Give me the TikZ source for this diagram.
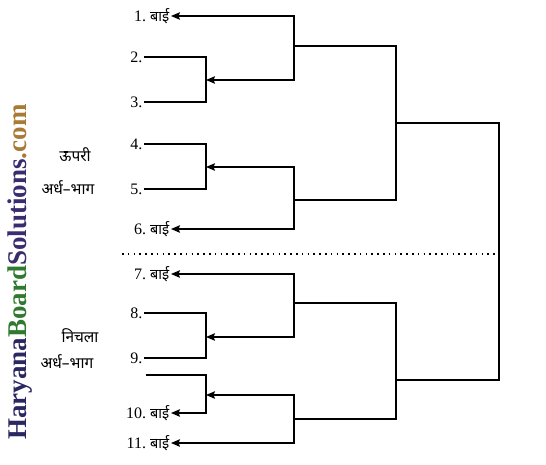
\documentclass[tikz,border=0pt]{standalone}
\usepackage{fontspec}
\setmainfont{Liberation Serif}
\newfontfamily\hindi[Script=Devanagari]{Noto Sans}
\usetikzlibrary{arrows.meta}
\definecolor{wmnavy}{HTML}{2B2761}
\definecolor{wmgreen}{HTML}{2F7A2F}
\definecolor{wmpurple}{HTML}{3A2C6E}
\definecolor{wmgold}{HTML}{A87A35}
\tikzset{
  entry/.style={anchor=east,inner sep=1.5pt,font=\fontsize{16}{18}\selectfont},
  link/.style={line width=1.1pt},
  arr/.style={link,-{Stealth[length=9pt,width=7.5pt,inset=1.5pt]}},
  half/.style={font=\hindi\fontsize{15.5}{18}\selectfont},
  divider/.style={line width=1.3pt,dash pattern=on 1.6pt off 4.2pt},
}
\begin{document}
\begin{tikzpicture}[x=1pt,y=-1pt]
    \useasboundingbox (0,0) rectangle (546,464);
    % Watermark
    \node[rotate=90,font=\bfseries\fontsize{27}{27}\selectfont] (wm) at (20,272)
      {\textcolor{wmnavy}{Haryana}\textcolor{wmgreen}{Board}\textcolor{wmpurple}{Solutions}\textcolor{wmgold}{.com}};
    % Halves
    \node[half] (up1) at (75,155) {ऊपरी};
    \node[half] (up2) at (68,188) {अर्ध–भाग};
    \node[half] (lo1) at (80,336) {निचला};
    \node[half] (lo2) at (67,362) {अर्ध–भाग};
    % Entrants
    \foreach \n/\y in {2/57,3/102,4/144,5/189,8/313,9/358}{
      \node[entry] (e\n) at (144,\y) {\n.};
    }
    \foreach \n/\y in {1/16,6/229,7/274,10/413,11/443}{
      \node[entry] (e\n) at (171,\y) {\n.\ {\hindi\fontsize{14.5}{16}\selectfont बाई}};
    }
    \coordinate (t10) at (146,375);
    % Round 1
    \coordinate (k23) at (206,80);
    \coordinate (k45) at (206,167);
    \coordinate (k89) at (206,337);
    \coordinate (k10) at (206,395);
    \draw[link] (e2.east) -| (k23) |- (e3.east);
    \draw[link] (e4.east) -| (k45) |- (e5.east);
    \draw[link] (e8.east) -| (k89) |- (e9.east);
    \draw[arr] (t10) -| (k10) |- (e10.east);
    % Round 2
    \coordinate (m1) at (294,46);
    \coordinate (m2) at (294,200);
    \coordinate (m3) at (294,303);
    \coordinate (m4) at (294,419);
    \draw[arr] (m1) |- (e1.east);
    \draw[arr] (m1) |- (k23);
    \draw[arr] (m2) |- (k45);
    \draw[arr] (m2) |- (e6.east);
    \draw[arr] (m3) |- (e7.east);
    \draw[arr] (m3) |- (k89);
    \draw[arr] (m4) |- (k10);
    \draw[arr] (m4) |- (e11.east);
    % Semi-final and final
    \coordinate (q1) at (396,123);
    \coordinate (q2) at (396,380);
    \coordinate (f) at (499,252);
    \draw[link] (m1) -| (q1) |- (m2);
    \draw[link] (m3) -| (q2) |- (m4);
    \draw[link] (q1) -| (f) |- (q2);
    % Divider
    \draw[divider] (122,254) -- (495,254);
\end{tikzpicture}
\end{document}
